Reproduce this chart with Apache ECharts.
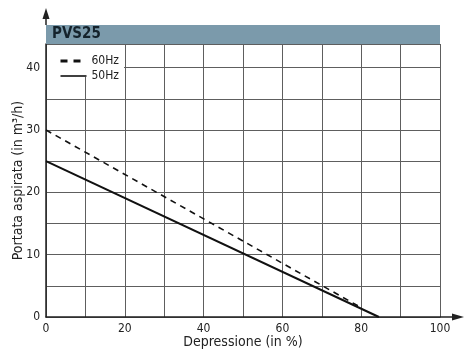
<!DOCTYPE html>
<html><head><meta charset="utf-8">
<script src="https://cdn.jsdelivr.net/npm/echarts@6/dist/echarts.min.js"></script>
<style>html,body{margin:0;padding:0;background:#fff}#c{width:470px;height:360px}</style>
</head><body><div id="c"></div>
<script>
var FONT = '"Liberation Sans Narrow", "DejaVu Sans Condensed", "Liberation Sans", Arial, sans-serif';
var title = 'PVS25';
var seriesNames = ['60Hz', '50Hz'];
var hz60 = [[0, 30], [80, 1.5]];
var hz50 = [[0, 25], [84.5, 0]];
var xTicks = [0, 20, 40, 60, 80, 100];
var yTicks = [0, 10, 20, 30, 40];
var xName = 'Depressione (in %)';
var yName = 'Portata aspirata (in m³/h)';

var chart = echarts.init(document.getElementById('c'));
chart.setOption({
  animation: false,
  textStyle: {fontFamily: FONT},
  grid: {left: 46, right: 30, top: 44, bottom: 43, containLabel: false, outerBoundsMode: 'none'},
  xAxis: {
    type: 'value', min: 0, max: 100, interval: 10,
    name: xName, nameLocation: 'middle', nameGap: 18, nameMoveOverlap: false,
    nameTextStyle: {fontSize: 14, color: '#222', fontFamily: FONT},
    axisLine: {lineStyle: {color: '#222', width: 1.5}},
    axisTick: {show: false},
    axisLabel: {fontSize: 12, color: '#222', margin: 6, fontFamily: FONT,
      formatter: function (v) { return xTicks.indexOf(v) >= 0 ? String(v) : ''; }},
    splitLine: {show: true, lineStyle: {color: '#5e5e5e', width: 1}}
  },
  yAxis: {
    type: 'value', min: 0, max: 43.8, interval: 5,
    name: yName, nameLocation: 'middle', nameGap: 21, nameRotate: 90, nameMoveOverlap: false,
    nameTextStyle: {fontSize: 14, color: '#222', fontFamily: FONT},
    axisLine: {show: true, lineStyle: {color: '#222', width: 1.5}},
    axisTick: {show: false},
    axisLabel: {fontSize: 12, color: '#222', margin: 6, fontFamily: FONT,
      formatter: function (v) { return yTicks.indexOf(v) >= 0 ? String(v) : ''; }},
    splitLine: {show: true, lineStyle: {color: '#5e5e5e', width: 1}}
  },
  legend: {
    orient: 'vertical', left: 54, top: 50, itemGap: 3, itemWidth: 26, itemHeight: 10, z: 20,
    textStyle: {fontSize: 12, color: '#222', fontFamily: FONT},
    itemStyle: {opacity: 0},
    data: [
      {name: seriesNames[0], lineStyle: {width: 3, type: [7, 6]}},
      {name: seriesNames[1], lineStyle: {width: 1.6}}
    ]
  },
  graphic: [
    {type: 'rect', z: 5, shape: {x: 47, y: 45, width: 77, height: 32}, style: {fill: '#fff'}},
    {type: 'rect', z: 6, shape: {x: 46, y: 25, width: 394, height: 19}, style: {fill: '#7b9aab'}},
    {type: 'text', z: 7, left: 52, top: 27, style: {text: title, fill: '#15232c', font: 'bold 15px ' + FONT}},
    {type: 'line', z: 6, shape: {x1: 46, y1: 25, x2: 46, y2: 14}, style: {stroke: '#222', lineWidth: 1.5}},
    {type: 'polygon', z: 6, shape: {points: [[42.5, 19], [49.5, 19], [46, 8]]}, style: {fill: '#222'}},
    {type: 'line', z: 6, shape: {x1: 440, y1: 317, x2: 455, y2: 317}, style: {stroke: '#222', lineWidth: 1.5}},
    {type: 'polygon', z: 6, shape: {points: [[452, 313.5], [452, 320.5], [464, 317]]}, style: {fill: '#222'}}
  ],
  series: [
    {name: seriesNames[0], type: 'line', data: hz60, symbol: 'none', z: 10,
      lineStyle: {color: '#111', width: 1.6, type: [6, 5]}, itemStyle: {color: '#111'}},
    {name: seriesNames[1], type: 'line', data: hz50, symbol: 'none', z: 10,
      lineStyle: {color: '#111', width: 2}, itemStyle: {color: '#111'}}
  ]
});
</script></body></html>
